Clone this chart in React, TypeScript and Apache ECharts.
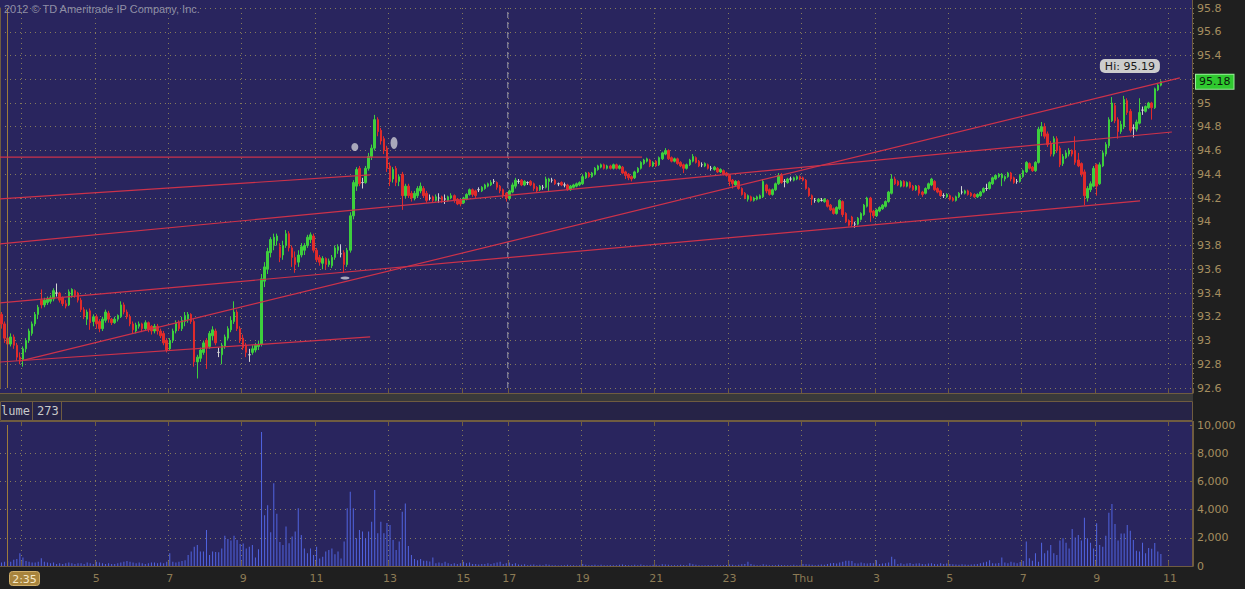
import React, { useEffect, useRef } from "react";
import * as echarts from "echarts";

// ---- OHLC candles, 5-minute bars: [open, close, low, high] ----
const candles0225 = [
  [93.22,93.14,93.10,93.24],[93.14,93.02,92.98,93.16],[93.02,92.97,92.94,93.05],[92.97,93.03,92.95,93.06],
  [93.03,92.96,92.93,93.05],[92.96,92.86,92.83,92.98],[92.86,92.84,92.80,92.90],[92.84,92.93,92.78,92.95],
  [92.93,93.00,92.90,93.02],[93.00,93.08,92.98,93.10],[93.06,93.14,93.04,93.16],[93.14,93.22,93.12,93.24],
  [93.22,93.28,93.18,93.30],[93.34,93.30,93.27,93.43],[93.30,93.34,93.28,93.36],[93.32,93.35,93.30,93.37],
  [93.33,93.36,93.31,93.38],[93.35,93.42,93.33,93.44],[93.40,93.40,93.37,93.48],[93.40,93.34,93.32,93.41],
  [93.36,93.31,93.29,93.37],[93.31,93.29,93.27,93.34],[93.30,93.41,93.29,93.43],[93.38,93.43,93.36,93.44],
  [93.42,93.38,93.36,93.43],[93.40,93.34,93.32,93.41],[93.34,93.26,93.24,93.36],[93.26,93.20,93.18,93.28],
  [93.18,93.24,93.13,93.26],[93.25,93.15,93.09,93.27],[93.16,93.20,93.12,93.22],
];
const candles0500 = [
  [93.20,93.14,93.10,93.22],[93.16,93.10,93.07,93.18],[93.10,93.18,93.08,93.20],[93.17,93.24,93.15,93.26],
  [93.23,93.18,93.15,93.25],[93.18,93.15,93.13,93.19],[93.15,93.18,93.14,93.20],[93.18,93.21,93.16,93.22],
  [93.20,93.30,93.19,93.33],[93.30,93.24,93.22,93.32],[93.24,93.20,93.18,93.26],[93.20,93.14,93.12,93.22],
  [93.14,93.09,93.06,93.16],[93.08,93.13,93.06,93.15],[93.12,93.14,93.10,93.16],[93.14,93.10,93.07,93.15],
  [93.10,93.15,93.08,93.17],[93.15,93.09,93.07,93.16],[93.12,93.08,93.05,93.13],[93.08,93.12,93.06,93.14],
  [93.12,93.08,93.05,93.14],[93.08,93.04,93.02,93.10],[93.06,92.98,92.96,93.08],[93.00,92.92,92.90,93.02],
  [92.93,93.00,92.92,93.02],[93.00,93.08,92.98,93.10],[93.08,93.15,93.06,93.17],[93.15,93.10,93.08,93.17],
  [93.10,93.17,93.08,93.20],[93.16,93.21,93.12,93.24],[93.18,93.22,93.15,93.24],[93.22,93.16,93.14,93.23],
  [93.16,92.82,92.78,93.18],[92.82,92.86,92.68,92.88],[92.85,92.92,92.82,92.94],[92.90,92.98,92.88,93.00],
  [93.00,92.94,92.76,93.02],[92.95,93.06,92.93,93.08],[93.04,93.09,93.00,93.12],[93.08,92.98,92.96,93.10],
  [92.90,92.90,92.86,92.94],[92.88,92.96,92.80,92.98],[92.95,93.03,92.93,93.05],[93.02,93.10,93.00,93.12],
  [93.09,93.17,93.07,93.20],[93.16,93.24,93.14,93.33],[93.24,93.10,93.08,93.26],[93.10,93.00,92.98,93.12],
];
const candles0900 = [
  [93.02,92.94,92.92,93.05],[92.96,92.90,92.86,92.98],[92.88,92.88,92.82,92.93],[92.90,92.93,92.88,92.96],
  [92.92,92.96,92.90,92.98],[92.95,92.97,92.92,93.00],[92.97,93.52,92.95,93.56],[93.50,93.62,93.45,93.66],
  [93.60,93.75,93.56,93.78],[93.74,93.85,93.70,93.87],[93.80,93.87,93.76,93.90],[93.84,93.88,93.80,93.90],
  [93.79,93.70,93.66,93.82],[93.72,93.80,93.68,93.84],[93.80,93.90,93.78,93.93],[93.90,93.78,93.75,93.92],
  [93.78,93.70,93.62,93.80],[93.70,93.64,93.57,93.75],[93.66,93.72,93.62,93.76],[93.72,93.79,93.70,93.82],
  [93.76,93.80,93.72,93.82],[93.80,93.87,93.78,93.89],[93.85,93.89,93.82,93.91],[93.88,93.76,93.74,93.90],
  [93.76,93.68,93.66,93.78],[93.70,93.66,93.63,93.72],[93.65,93.69,93.60,93.71],[93.69,93.64,93.60,93.70],
  [93.64,93.67,93.62,93.69],[93.63,93.70,93.61,93.72],[93.70,93.78,93.68,93.80],[93.76,93.79,93.73,93.81],
  [93.73,93.73,93.70,93.81],[93.74,93.64,93.57,93.76],[93.64,93.76,93.62,93.78],[93.76,94.05,93.74,94.08],
  [94.05,94.33,94.02,94.35],[94.30,94.44,94.26,94.46],[94.45,94.32,94.30,94.47],[94.33,94.33,94.28,94.37],
  [94.33,94.45,94.32,94.47],[94.45,94.55,94.43,94.58],[94.55,94.62,94.52,94.65],[94.62,94.86,94.60,94.90],
  [94.86,94.76,94.72,94.88],[94.77,94.68,94.65,94.79],[94.70,94.60,94.57,94.72],[94.62,94.45,94.42,94.64],
];
const candles1300 = [
  [94.47,94.34,94.30,94.50],[94.36,94.44,94.33,94.46],[94.45,94.33,94.30,94.47],[94.34,94.38,94.30,94.40],
  [94.40,94.22,94.10,94.42],[94.22,94.30,94.20,94.32],[94.30,94.22,94.20,94.32],[94.24,94.20,94.17,94.26],
  [94.20,94.24,94.18,94.26],[94.22,94.28,94.20,94.30],[94.26,94.30,94.24,94.33],[94.28,94.22,94.20,94.30],
  [94.24,94.18,94.16,94.26],[94.20,94.20,94.18,94.23],[94.21,94.18,94.16,94.22],[94.18,94.21,94.17,94.23],
  [94.20,94.20,94.16,94.24],[94.21,94.18,94.16,94.22],[94.19,94.19,94.15,94.23],[94.18,94.21,94.17,94.22],
  [94.20,94.22,94.19,94.24],[94.22,94.18,94.16,94.23],[94.19,94.15,94.14,94.20],[94.18,94.15,94.13,94.19],
  [94.16,94.20,94.15,94.21],[94.19,94.23,94.18,94.24],[94.23,94.27,94.22,94.28],[94.27,94.23,94.21,94.28],
  [94.26,94.22,94.20,94.27],[94.27,94.27,94.25,94.29],[94.26,94.29,94.25,94.30],[94.28,94.31,94.27,94.32],
  [94.30,94.32,94.29,94.33],[94.31,94.33,94.30,94.35],[94.34,94.34,94.32,94.36],[94.33,94.29,94.27,94.34],
  [94.30,94.26,94.24,94.31],[94.27,94.22,94.20,94.28],[94.24,94.20,94.17,94.25],
];
const candles1700 = [
  [94.20,94.26,94.18,94.27],[94.25,94.31,94.24,94.33],[94.30,94.35,94.28,94.37],[94.34,94.34,94.32,94.36],
  [94.35,94.31,94.30,94.36],[94.31,94.34,94.30,94.35],[94.33,94.33,94.31,94.34],[94.34,94.31,94.30,94.35],
  [94.32,94.28,94.26,94.33],[94.29,94.26,94.25,94.30],[94.27,94.30,94.26,94.31],[94.29,94.29,94.27,94.31],
  [94.29,94.36,94.28,94.38],[94.34,94.36,94.26,94.37],[94.35,94.35,94.33,94.37],[94.35,94.32,94.31,94.36],
  [94.32,94.32,94.30,94.33],[94.33,94.31,94.30,94.34],[94.31,94.31,94.29,94.33],[94.31,94.27,94.26,94.32],
  [94.27,94.30,94.26,94.31],[94.29,94.31,94.28,94.32],[94.30,94.32,94.29,94.33],[94.31,94.33,94.30,94.34],
  [94.32,94.38,94.31,94.40],[94.37,94.41,94.36,94.42],[94.41,94.38,94.37,94.42],[94.38,94.41,94.37,94.42],
  [94.40,94.45,94.39,94.46],[94.44,94.47,94.43,94.48],[94.46,94.48,94.45,94.49],[94.48,94.45,94.44,94.49],
  [94.45,94.47,94.44,94.48],[94.47,94.45,94.44,94.48],[94.45,94.48,94.44,94.49],[94.48,94.45,94.44,94.49],
  [94.45,94.47,94.44,94.48],[94.46,94.41,94.40,94.47],[94.42,94.39,94.36,94.43],[94.40,94.37,94.35,94.41],
  [94.38,94.36,94.34,94.39],[94.37,94.42,94.36,94.43],[94.42,94.45,94.41,94.46],[94.45,94.50,94.44,94.51],
  [94.49,94.52,94.48,94.53],[94.51,94.53,94.50,94.54],[94.52,94.47,94.46,94.53],[94.47,94.50,94.46,94.51],
];
const candles2100 = [
  [94.51,94.47,94.46,94.52],[94.48,94.54,94.47,94.55],[94.53,94.58,94.52,94.59],[94.57,94.60,94.56,94.62],
  [94.60,94.53,94.52,94.61],[94.54,94.51,94.50,94.55],[94.51,94.53,94.50,94.54],[94.53,94.49,94.48,94.54],
  [94.50,94.47,94.46,94.51],[94.48,94.45,94.41,94.49],[94.45,94.48,94.44,94.49],[94.48,94.52,94.47,94.53],
  [94.51,94.55,94.50,94.57],[94.54,94.50,94.49,94.55],[94.51,94.47,94.46,94.52],[94.48,94.48,94.46,94.50],
  [94.47,94.49,94.46,94.50],[94.48,94.45,94.44,94.49],[94.45,94.45,94.43,94.47],[94.44,94.46,94.43,94.47],
  [94.45,94.42,94.41,94.46],[94.42,94.44,94.41,94.45],[94.43,94.40,94.39,94.44],[94.41,94.39,94.38,94.42],
  [94.39,94.34,94.30,94.40],[94.35,94.32,94.28,94.36],[94.31,94.34,94.30,94.35],[94.34,94.28,94.27,94.35],
  [94.28,94.23,94.22,94.29],[94.24,94.20,94.19,94.25],[94.19,94.22,94.17,94.23],[94.21,94.18,94.17,94.22],
  [94.18,94.20,94.17,94.21],[94.19,94.21,94.18,94.22],[94.20,94.22,94.19,94.23],[94.21,94.34,94.20,94.36],
  [94.31,94.26,94.24,94.32],[94.27,94.23,94.22,94.28],[94.23,94.27,94.22,94.28],[94.27,94.32,94.26,94.33],
  [94.32,94.39,94.31,94.41],[94.39,94.33,94.32,94.41],[94.34,94.34,94.29,94.36],[94.33,94.36,94.32,94.37],
  [94.36,94.36,94.34,94.38],[94.35,94.37,94.34,94.38],[94.36,94.38,94.35,94.39],[94.38,94.36,94.35,94.39],
];
const candles0100 = [
  [94.37,94.35,94.34,94.38],[94.35,94.28,94.27,94.36],[94.28,94.22,94.21,94.29],[94.22,94.19,94.14,94.23],
  [94.18,94.18,94.16,94.20],[94.17,94.19,94.16,94.20],[94.18,94.18,94.17,94.20],[94.17,94.19,94.16,94.20],
  [94.18,94.13,94.12,94.19],[94.14,94.10,94.09,94.15],[94.11,94.07,94.06,94.12],[94.07,94.12,94.06,94.13],
  [94.11,94.18,94.10,94.19],[94.17,94.06,94.04,94.18],[94.07,94.00,93.99,94.08],[94.01,93.97,93.96,94.02],
  [94.04,93.98,93.96,94.05],[93.98,93.98,93.95,94.00],[93.98,94.03,93.97,94.04],[94.02,94.07,94.01,94.08],
  [94.06,94.14,94.05,94.15],[94.13,94.20,94.12,94.21],[94.20,94.08,94.00,94.21],[94.09,94.05,94.03,94.10],
  [94.05,94.10,94.04,94.11],[94.09,94.12,94.08,94.13],[94.11,94.14,94.10,94.15],[94.13,94.17,94.12,94.18],
  [94.17,94.25,94.16,94.26],[94.24,94.36,94.23,94.40],[94.36,94.32,94.31,94.38],[94.34,94.31,94.30,94.35],
  [94.30,94.34,94.29,94.35],[94.34,94.30,94.29,94.35],[94.30,94.33,94.29,94.34],[94.33,94.29,94.28,94.34],
  [94.30,94.27,94.26,94.31],[94.27,94.30,94.26,94.31],[94.30,94.24,94.22,94.31],[94.25,94.23,94.21,94.26],
  [94.24,94.28,94.23,94.29],[94.28,94.32,94.27,94.33],[94.31,94.36,94.30,94.37],[94.34,94.27,94.26,94.35],
  [94.28,94.25,94.24,94.29],[94.26,94.22,94.21,94.27],[94.22,94.22,94.20,94.24],[94.21,94.23,94.20,94.24],
];
const candles0500b = [
  [94.22,94.19,94.18,94.23],[94.20,94.18,94.17,94.21],[94.18,94.21,94.17,94.22],[94.21,94.24,94.20,94.25],
  [94.25,94.25,94.23,94.30],[94.24,94.26,94.23,94.27],[94.26,94.23,94.22,94.27],[94.24,94.22,94.21,94.25],
  [94.23,94.21,94.20,94.24],[94.21,94.23,94.20,94.24],[94.22,94.25,94.21,94.26],[94.25,94.28,94.24,94.29],
  [94.28,94.28,94.26,94.32],[94.28,94.33,94.27,94.34],[94.32,94.37,94.31,94.38],[94.36,94.39,94.35,94.40],
  [94.38,94.40,94.37,94.41],[94.37,94.40,94.30,94.41],[94.36,94.38,94.34,94.39],[94.38,94.41,94.37,94.42],
  [94.41,94.36,94.34,94.42],[94.37,94.33,94.32,94.38],[94.34,94.34,94.32,94.36],[94.34,94.39,94.33,94.40],
  [94.38,94.43,94.37,94.44],[94.42,94.50,94.41,94.51],[94.49,94.45,94.44,94.50],[94.46,94.43,94.42,94.47],
  [94.43,94.50,94.42,94.51],[94.50,94.78,94.49,94.80],[94.76,94.80,94.72,94.84],[94.80,94.72,94.70,94.83],
  [94.74,94.65,94.63,94.76],[94.66,94.57,94.55,94.68],[94.57,94.70,94.55,94.72],[94.70,94.60,94.58,94.72],
  [94.62,94.48,94.46,94.64],[94.49,94.55,94.47,94.57],[94.54,94.58,94.53,94.60],[94.57,94.60,94.55,94.62],
  [94.60,94.57,94.55,94.61],[94.60,94.50,94.48,94.72],[94.52,94.47,94.46,94.58],[94.49,94.40,94.38,94.50],
  [94.42,94.22,94.14,94.44],[94.20,94.28,94.17,94.30],[94.27,94.32,94.25,94.34],[94.30,94.45,94.29,94.47],
];
const candles0900b = [
  [94.48,94.30,94.22,94.49],[94.32,94.48,94.31,94.50],[94.47,94.58,94.46,94.60],[94.57,94.65,94.55,94.67],
  [94.64,94.86,94.62,94.88],[94.85,95.00,94.84,95.05],[94.98,94.85,94.83,95.00],[94.86,94.76,94.70,94.88],
  [94.76,94.82,94.74,94.85],[94.80,95.03,94.78,95.06],[95.02,94.92,94.90,95.04],[94.93,94.77,94.75,94.95],
  [94.79,94.79,94.71,94.82],[94.78,94.84,94.76,94.86],[94.83,94.92,94.82,95.04],[94.94,94.94,94.90,94.97],
  [94.93,94.97,94.92,94.98],[94.96,95.00,94.95,95.01],[95.00,94.96,94.86,95.01],[94.96,95.12,94.95,95.13],
  [95.11,95.15,95.10,95.16],[95.15,95.18,95.14,95.19],
];

// ---- Volume per bar ----
const volume0225 = [250,300,350,300,450,500,900,600,350,300,250,250,300,550,300,250,200,250,150,200,150,200,250,200,150,200,200,150,250,200,150];
const volume0500 = [300,250,200,150,200,150,150,200,250,300,350,300,250,200,250,200,150,200,250,250,200,250,200,300,
  900,300,250,300,350,400,780,1020,1370,1490,1020,1020,2550,780,1020,1000,980,1250,2150,1910,1800,2150,1840,1560];
const volume0900 = [1600,1250,1370,1490,610,1180,9500,3600,4300,2400,5860,3700,1700,1490,2800,1610,2100,2440,4090,2200,1250,900,1250,780,
  1370,540,660,1020,1130,1250,830,1020,540,1730,4090,5270,4090,1960,2550,2440,1960,2440,3140,5390,2320,3140,2320,3050];
const volume1300 = [2900,1850,1130,1730,3850,4440,1420,780,500,400,500,380,380,320,600,200,250,200,300,200,150,200,150,200,
  300,200,250,150,150,100,150,150,200,150,200,250,300,150,200];
const volume1700 = [250,150,200,100,80,120,60,80,100,60,80,50,120,80,60,50,40,60,50,80,60,50,40,60,
  150,80,60,70,90,60,80,50,60,70,50,60,80,100,70,60,50,80,60,100,70,60,50,80];
const volume2100 = [80,60,120,100,80,60,50,60,80,70,60,200,120,80,60,50,60,70,50,60,80,60,50,70,
  100,80,60,90,120,150,300,150,80,60,50,120,80,60,50,60,80,70,60,50,60,80,60,50];
const volume0100 = [150,120,100,80,60,80,100,90,150,200,220,180,250,300,380,380,350,200,180,250,200,180,220,200,
  400,150,180,200,250,650,480,150,200,120,180,220,150,180,200,150,120,180,200,150,120,200,150,180];
const volume0500b = [150,120,100,80,120,100,80,100,120,150,200,250,300,400,200,180,220,600,250,200,300,250,200,280,
  350,1730,550,380,900,300,1650,900,1100,1490,900,780,1800,1960,1650,1250,2620,2030,2200,1800,3430,1960,1650,1250];
const volume0900b = [3030,1490,1370,2150,3780,4400,2980,1800,2300,2300,2900,2500,1840,1090,1020,1650,900,1280,1230,1630,1020,850];

// ---- Axes ----
const sessions: [string, string, string][] = [["W", "02:25", "16:10"], ["W", "17:00", "23:55"], ["T", "00:00", "11:35"]];
const timeTicks: [string, string][] = [
  ["W03:00", "3"], ["W05:00", "5"], ["W07:00", "7"], ["W09:00", "9"], ["W11:00", "11"], ["W13:00", "13"],
  ["W15:00", "15"], ["W17:00", "17"], ["W19:00", "19"], ["W21:00", "21"], ["W23:00", "23"], ["T01:00", "Thu"],
  ["T03:00", "3"], ["T05:00", "5"], ["T07:00", "7"], ["T09:00", "9"], ["T11:00", "11"],
];
const priceAxis = { min: 92.6, max: 95.8, step: 0.2 };
const volumeAxis = { min: 0, max: 10000, step: 2000 };
const cursorTime = "W02:35";
const sessionBreak = "W17:00";

// ---- Drawing objects (x in bar units from left edge, y in price) ----
const trendLines = [
  { from: [0, 94.545], to: [209.9, 94.545] },
  { from: [0, 94.192], to: [121, 94.394] },
  { from: [0, 93.813], to: [383.1, 94.756] },
  { from: [6.5, 92.827], to: [385.7, 95.211] },
  { from: [0, 93.316], to: [372.7, 94.175] },
  { from: [0, 92.819], to: [121, 93.03] },
];
const markers = [
  { at: [116.0, 94.63], size: [7, 8] },
  { at: [128.8, 94.663], size: [7, 12] },
  { at: [112.8, 93.526], size: [9, 3] },
];

const NAVY = "#29255e";
const BORDER = "#6f5c40";
const DOT = "#857a5c";
const TAN = "#a58e5f";

function toMin(s: string) { const [h, m] = s.split(":").map(Number); return h * 60 + m; }
function pad(n: number) { return (n < 10 ? "0" : "") + n; }

export default function App() {
  const ref = useRef<HTMLDivElement>(null);
  useEffect(() => {
    if (!ref.current) return;
    const chart = echarts.init(ref.current, null, { renderer: "svg" });

    const cats: string[] = [];
    for (const [d, a, b] of sessions) {
      for (let m = toMin(a); m <= toMin(b); m += 5) cats.push(d + pad(Math.floor(m / 60)) + ":" + pad(m % 60));
    }
    const tickMap: Record<string, string> = {};
    timeTicks.forEach(([k, v]) => (tickMap[k] = v));
    const isTick = (_i: number, v: string) => v in tickMap;
    const cursorIdx = cats.indexOf(cursorTime);

    const candles = [...candles0225, ...candles0500, ...candles0900, ...candles1300, ...candles1700,
      ...candles2100, ...candles0100, ...candles0500b, ...candles0900b];
    const volume = [...volume0225, ...volume0500, ...volume0900, ...volume1300, ...volume1700,
      ...volume2100, ...volume0100, ...volume0500b, ...volume0900b];

    const lastClose = candles[candles.length - 1][1];
    let hiIdx = 0;
    candles.forEach((c, i) => { if (c[3] > candles[hiIdx][3]) hiIdx = i; });
    const hiVal = candles[hiIdx][3];
    const breakIdx = cats.indexOf(sessionBreak);

    const dotted = { color: DOT, type: [1, 4] as any, width: 1 };

    const option: any = {
      animation: false,
      backgroundColor: "#1f1f1f",
      textStyle: { fontFamily: "DejaVu Sans" },
      grid: [
        { left: 0, top: 8, width: 1193, height: 380 },
        { left: 0, top: 425, width: 1193, height: 141 },
      ],
      xAxis: [
        {
          type: "category", gridIndex: 0, data: cats, position: "bottom", offset: 5,
          axisLine: { show: true, lineStyle: { color: BORDER } },
          axisTick: { show: true, inside: true, length: 5, interval: isTick, lineStyle: { color: BORDER } },
          axisLabel: { show: false },
          splitLine: { show: true, interval: isTick, lineStyle: dotted },
        },
        { type: "value", gridIndex: 0, min: 0, max: cats.length, show: false },
        {
          type: "category", gridIndex: 1, data: cats, position: "bottom",
          axisLine: { show: true, lineStyle: { color: BORDER } },
          axisTick: { show: true, inside: true, length: 5, interval: isTick, lineStyle: { color: BORDER } },
          axisLabel: {
            show: true, interval: isTick,
            // the label under the cursor's time box is covered by that box
            formatter: (v: string) => (Math.abs(cats.indexOf(v) - cursorIdx) < 8 ? "" : tickMap[v] ?? ""),
            color: "#8c7b55", fontSize: 11, margin: 7, fontFamily: "DejaVu Sans",
          },
          splitLine: { show: true, interval: isTick, lineStyle: dotted },
        },
        {
          type: "category", gridIndex: 1, data: cats, position: "top", offset: 4,
          axisLine: { show: true, lineStyle: { color: BORDER } },
          axisTick: { show: true, inside: true, length: 5, interval: isTick, lineStyle: { color: BORDER } },
          axisLabel: { show: false }, splitLine: { show: false },
        },
      ],
      yAxis: [
        {
          type: "value", gridIndex: 0, position: "right",
          min: priceAxis.min, max: priceAxis.max, interval: priceAxis.step,
          axisLine: { show: true, lineStyle: { color: BORDER } },
          axisTick: { show: true, inside: true, length: 3, lineStyle: { color: BORDER } },
          axisLabel: {
            color: TAN, fontSize: 11, margin: 4,
            // the tick label under the last-price box is covered by it
            formatter: (v: number) => (Math.abs(v - lastClose) < 0.08 ? "" : String(Math.round(v * 10) / 10)),
          },
          splitLine: { show: true, lineStyle: dotted },
        },
        {
          type: "value", gridIndex: 1, position: "right",
          min: volumeAxis.min, max: volumeAxis.max, interval: volumeAxis.step,
          axisLine: { show: true, lineStyle: { color: BORDER } },
          axisTick: { show: true, inside: true, length: 3, lineStyle: { color: BORDER } },
          axisLabel: { color: TAN, fontSize: 11, margin: 4, formatter: (v: number) => v.toLocaleString("en-US") },
          splitLine: { show: true, showMaxLine: false, showMinLine: false, lineStyle: dotted },
        },
      ],
      series: [
        {
          type: "line", xAxisIndex: 1, yAxisIndex: 0, symbol: "none", silent: true, z: 1,
          data: [[breakIdx, priceAxis.min], [breakIdx, priceAxis.max]],
          lineStyle: { color: "#9d9db0", width: 1, type: [6, 4] },
        },
        {
          type: "candlestick", xAxisIndex: 0, yAxisIndex: 0, data: candles, barWidth: 2, z: 3,
          itemStyle: {
            color: "#3dcf3d", color0: "#e02b2b", borderColor: "#3dcf3d", borderColor0: "#e02b2b",
            borderColorDoji: "#d2d2d2", borderWidth: 1,
          },
          markLine: {
            silent: true, symbol: ["none", "none"], animation: false,
            data: [
              { xAxis: cursorTime, lineStyle: { color: "#9c7a3c", width: 1, type: "solid" }, label: { show: false } },
            ],
          },
          markPoint: {
            silent: true, symbol: "circle", symbolSize: 1, itemStyle: { color: "rgba(0,0,0,0)" },
            data: [{ coord: [cats[hiIdx], hiVal], value: hiVal }],
            label: {
              show: true, position: "top", distance: 7, offset: [-31, 0],
              formatter: "Hi: " + hiVal.toFixed(2), backgroundColor: "#cdcdcd", color: "#1a1a1a",
              borderRadius: 5, padding: [2, 5, 1, 5], fontSize: 11, fontFamily: "DejaVu Sans",
            },
          },
        },
        {
          // last price tag on the price axis
          type: "line", xAxisIndex: 0, yAxisIndex: 0, data: [], silent: true, z: 8,
          markLine: {
            silent: true, symbol: ["none", "none"], animation: false,
            lineStyle: { color: "rgba(0,0,0,0)", width: 0, opacity: 1 },
            data: [{ yAxis: lastClose }],
            label: {
              show: true, position: "end", distance: 3, formatter: lastClose.toFixed(2), opacity: 1,
              backgroundColor: "#2fc92f", color: "#0b1a0b", borderColor: "#9bf09b", borderWidth: 1,
              padding: [2, 3, 1, 3], fontSize: 11, fontFamily: "DejaVu Sans",
            },
          },
        },
        ...trendLines.map((t) => ({
          type: "line", xAxisIndex: 1, yAxisIndex: 0, symbol: "none", silent: true, z: 6,
          data: [t.from, t.to], lineStyle: { color: "#cc324a", width: 1.2 },
        })),
        {
          type: "scatter", xAxisIndex: 1, yAxisIndex: 0, silent: true, z: 7,
          data: markers.map((m) => ({ value: m.at, symbolSize: m.size })),
          itemStyle: { color: "#c9c9d2" },
        },
        {
          type: "bar", xAxisIndex: 2, yAxisIndex: 1, data: volume, barWidth: 1, z: 3,
          itemStyle: { color: "#5164e0" },
          markLine: {
            silent: true, symbol: ["none", "none"], animation: false,
            data: [{ xAxis: cursorTime }],
            lineStyle: { color: "#9c7a3c", width: 1, type: "solid" }, label: { show: false },
          },
        },
      ],
      graphic: [
        { type: "rect", z: -10, silent: true, shape: { x: 0, y: 0, width: 1193, height: 393 }, style: { fill: NAVY } },
        { type: "rect", z: -10, silent: true, shape: { x: 0, y: 393, width: 1193, height: 8 }, style: { fill: "#393939" } },
        { type: "rect", z: -10, silent: true, shape: { x: 0.5, y: 401.5, width: 1192, height: 19 }, style: { fill: "#262347", stroke: BORDER, lineWidth: 1 } },
        { type: "rect", z: -10, silent: true, shape: { x: 0, y: 421, width: 1193, height: 145 }, style: { fill: NAVY } },
        { type: "line", z: 10, silent: true, shape: { x1: 1192.5, y1: 0, x2: 1192.5, y2: 393 }, style: { stroke: BORDER, lineWidth: 1 } },
        { type: "line", z: 10, silent: true, shape: { x1: 1192.5, y1: 421, x2: 1192.5, y2: 566 }, style: { stroke: BORDER, lineWidth: 1 } },
        { type: "line", z: 10, silent: true, shape: { x1: 32.5, y1: 401, x2: 32.5, y2: 421 }, style: { stroke: BORDER, lineWidth: 1 } },
        { type: "line", z: 10, silent: true, shape: { x1: 61.5, y1: 401, x2: 61.5, y2: 421 }, style: { stroke: BORDER, lineWidth: 1 } },
        {
          type: "text", z: 10, silent: true, x: 1, y: 411,
          style: { text: "lume", fill: "#c9c9c9", font: '12px "DejaVu Sans Mono"', verticalAlign: "middle", textVerticalAlign: "middle" },
        },
        {
          type: "text", z: 10, silent: true, x: 37, y: 411,
          style: { text: "273", fill: "#c9c9c9", font: '12px "DejaVu Sans Mono"', verticalAlign: "middle", textVerticalAlign: "middle" },
        },
        {
          type: "text", z: 10, silent: true, x: 4, y: 9,
          style: { text: "2012 © TD Ameritrade IP Company, Inc.", fill: "#8e8ea6", font: '11px "Liberation Sans"', verticalAlign: "middle", textVerticalAlign: "middle" },
        },
        {
          type: "rect", z: 20, silent: true, shape: { x: 9.5, y: 571.5, width: 30, height: 14, r: 3 },
          style: { fill: "#a8843d", stroke: "#cfae68", lineWidth: 1 },
        },
        {
          type: "text", z: 21, silent: true, x: 24.5, y: 579,
          style: {
            text: "2:35", fill: "#f5e8c8", font: '11px "DejaVu Sans"',
            align: "center", verticalAlign: "middle", textAlign: "center", textVerticalAlign: "middle",
          },
        },
      ],
    };
    chart.setOption(option);
    return () => chart.dispose();
  }, []);
  return <div ref={ref} style={{ position: "fixed", left: 0, top: 0, width: 1245, height: 589 }} />;
}
